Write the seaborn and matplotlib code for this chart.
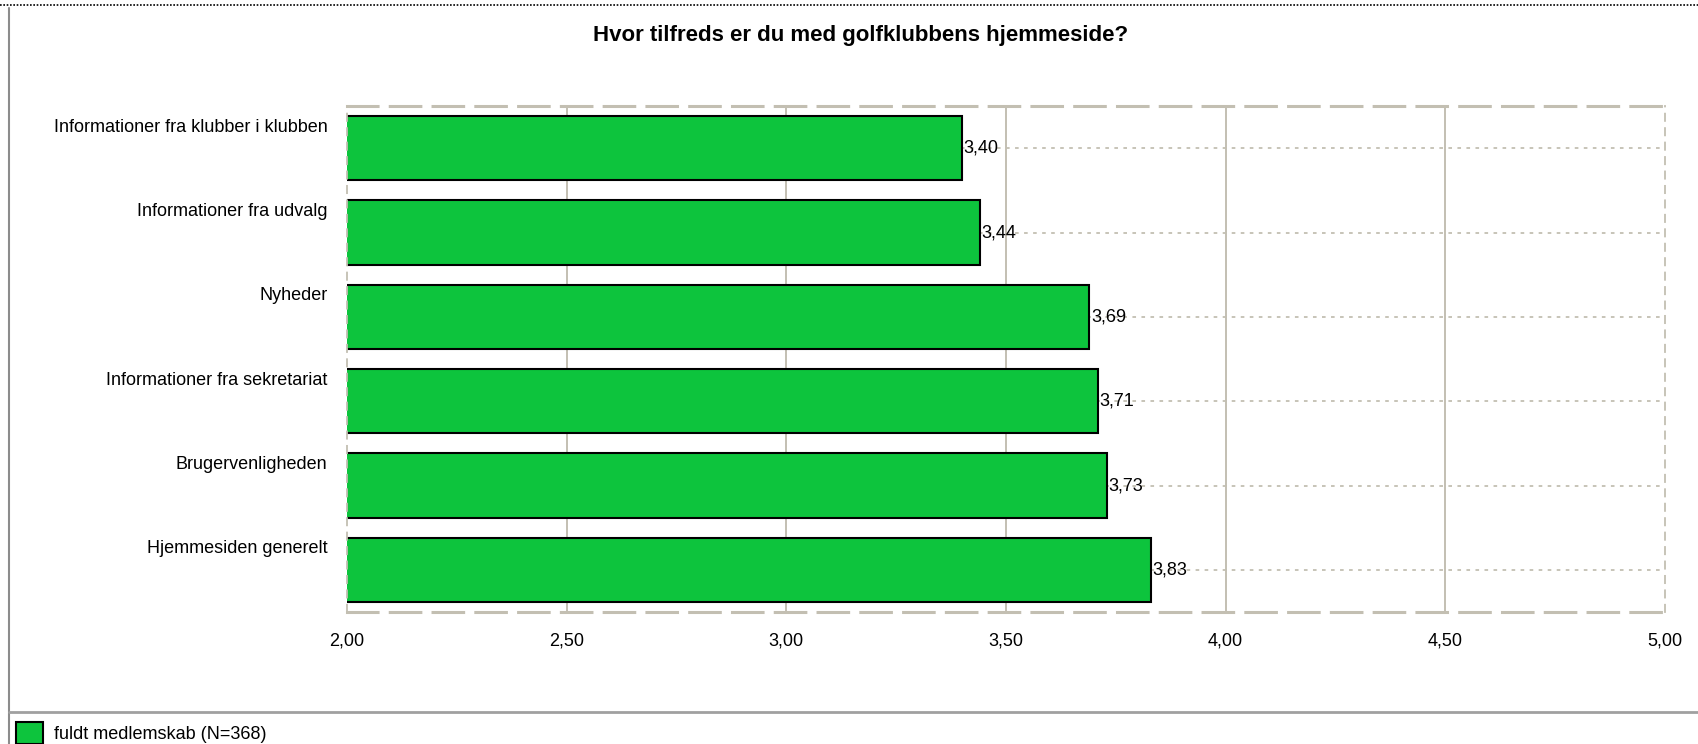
import matplotlib
matplotlib.use("Agg")
import matplotlib.pyplot as plt
import matplotlib.transforms as mtransforms
from matplotlib.lines import Line2D
from matplotlib.patches import Patch
import pandas as pd
import seaborn as sns

TITLE = "Hvor tilfreds er du med golfklubbens hjemmeside?"
CATEGORIES = [
    "Informationer fra klubber i klubben",
    "Informationer fra udvalg",
    "Nyheder",
    "Informationer fra sekretariat",
    "Brugervenligheden",
    "Hjemmesiden generelt",
]
VALUES = [3.40, 3.44, 3.69, 3.71, 3.73, 3.83]
X_TICKS = [2.0, 2.5, 3.0, 3.5, 4.0, 4.5, 5.0]
SERIES = "fuldt medlemskab (N=368)"

GREEN = "#0dc43d"
GRID = "#c3bfb2"

sns.set_style("white")
plt.rcParams["font.family"] = ["Liberation Sans", "DejaVu Sans"]
plt.rcParams["text.color"] = "black"
plt.rcParams["xtick.color"] = "black"
plt.rcParams["ytick.color"] = "black"

df = pd.DataFrame({"category": CATEGORIES, "value": VALUES})

fig = plt.figure(figsize=(16.98, 7.44), dpi=100)
ax = fig.add_axes([347 / 1698, 1 - 612 / 744, (1665 - 347) / 1698, (612 - 106) / 744])

sns.barplot(data=df, x="value", y="category", orient="h", color=GREEN,
            edgecolor="black", linewidth=1.5, width=0.76, saturation=1, ax=ax)

ax.set_xlim(2.0, 5.0)
ax.set_ylim(len(CATEGORIES) - 0.5, -0.5)
ax.set_xticks(X_TICKS)
ax.set_xticklabels([f"{t:.2f}".replace(".", ",") for t in X_TICKS], fontsize=13)
ax.set_xlabel("")
ax.set_ylabel("")
ax.tick_params(axis="both", length=0)
ax.tick_params(axis="x", pad=15)
ax.tick_params(axis="y", pad=14, labelsize=13)

# category labels sit near the top of each bar
shift = mtransforms.ScaledTranslation(0, 23 / 100, fig.dpi_scale_trans)
for lab in ax.get_yticklabels():
    lab.set_transform(lab.get_transform() + shift)

ax.set_axisbelow(True)
ax.grid(axis="x", color=GRID, linewidth=1.4, linestyle="-")
ax.grid(axis="y", color=GRID, linewidth=1.3, linestyle=(0, (2, 3)))
gl = ax.xaxis.get_gridlines()
gl[0].set_visible(False)
gl[-1].set_visible(False)

for side in ["top", "bottom"]:
    ax.spines[side].set_visible(True)
    ax.spines[side].set_color(GRID)
    ax.spines[side].set_linewidth(2.2)
    ax.spines[side].set_linestyle((0, (10, 4)))
for side in ["left", "right"]:
    ax.spines[side].set_visible(True)
    ax.spines[side].set_color(GRID)
    ax.spines[side].set_linewidth(1.3)
    ax.spines[side].set_linestyle((0, (4, 4)))

ax.bar_label(ax.containers[0], fmt=lambda v: f"{v:.2f}".replace(".", ","),
             padding=1, fontsize=13)

fig.text(0.507, 1 - 36 / 744, TITLE, ha="center", va="center",
         fontsize=16, fontweight="bold")

# outer frame
fig.add_artist(Line2D([0, 1], [1 - 5 / 744] * 2, color="black", linewidth=1.2,
                      linestyle=(0, (1, 1)), transform=fig.transFigure))
fig.add_artist(Line2D([9 / 1698] * 2, [0, 1 - 8 / 744], color="#8c8c8c",
                      linewidth=1.5, transform=fig.transFigure))
fig.add_artist(Line2D([9 / 1698, 1], [1 - 712 / 744] * 2, color="#a0a0a0",
                      linewidth=2, transform=fig.transFigure))

fig.legend(handles=[Patch(facecolor=GREEN, edgecolor="black", linewidth=1.5, label=SERIES)],
           loc="lower left", bbox_to_anchor=(0.0, -0.022), frameon=False,
           fontsize=13, handlelength=1.5, handleheight=1.5, handletextpad=0.6)

fig.savefig("out.png", dpi=100)
